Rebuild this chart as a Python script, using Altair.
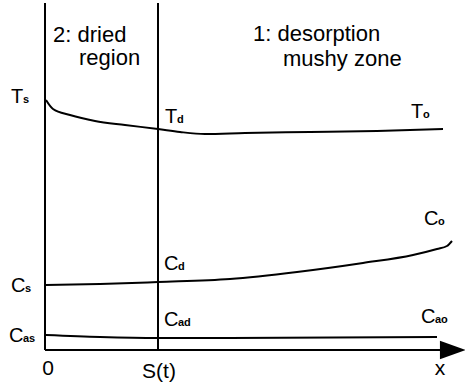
import altair as alt
import pandas as pd

# Curves (x measured from the left axis, y from the bottom axis)
t_x = [1, 8, 25, 50, 80, 113, 135, 160, 200, 265, 332, 398]
t_y = [250, 241, 235, 229, 225, 221, 218, 216, 217, 218, 219, 221]
c_x = [1, 55, 113, 185, 252, 318, 368, 392, 402, 407]
c_y = [65, 66, 68, 71, 78, 87, 95, 101, 104, 109]
ca_x = [1, 55, 113, 185, 392]
ca_y = [15, 13, 12, 12, 13]

s_pos = 113      # front position S(t)
top = 347        # top of vertical lines
x_end = 402      # end of x axis line
arrow_x = 408

# Region labels
reg_text = ["2: dried", "region", "1: desorption", "mushy zone"]
reg_x = [8, 34, 208, 238]
reg_y = [308, 285, 309, 284]

# Symbol labels: main letter + subscript
sym_main = ["T", "T", "T", "C", "C", "C", "C", "C", "C"]
sym_sub = ["s", "d", "o", "o", "d", "s", "as", "ad", "ao"]
sym_x = [-34, 120, 366, 379, 119, -34, -36, 119, 376]
sub_x = [-22, 132, 378, 393, 133, -20, -22, 133, 390]
sym_y = [247, 227, 232, 125, 80, 58, 8, 24, 27]

# Axis labels
ax_text = ["0", "S(t)", "x"]
ax_x = [3, 114, 395]
ax_y = [-25, -28, -25]

FONT = "Liberation Sans"
xs = alt.Scale(domain=[-45, 420], range=[0, 465])
ys = alt.Scale(domain=[-35, 350], range=[385, 0])
X = lambda f="x": alt.X(f"{f}:Q", scale=xs, axis=None)
Y = lambda f="y": alt.Y(f"{f}:Q", scale=ys, axis=None)

curves = pd.DataFrame(
    [{"x": a, "y": b, "k": "T", "o": i} for i, (a, b) in enumerate(zip(t_x, t_y))]
    + [{"x": a, "y": b, "k": "C", "o": i} for i, (a, b) in enumerate(zip(c_x, c_y))]
    + [{"x": a, "y": b, "k": "Ca", "o": i} for i, (a, b) in enumerate(zip(ca_x, ca_y))]
)

lines = alt.Chart(curves).mark_line(color="black", strokeWidth=2, interpolate="monotone").encode(
    x=X(), y=Y(), detail="k:N", order="o:Q"
)

vrules = pd.DataFrame({"x": [0, s_pos], "y": [0, 0], "y2": [top, top]})
vr = alt.Chart(vrules).mark_rule(color="black", strokeWidth=2).encode(
    x=X(), y=Y(), y2="y2:Q"
)
hr = alt.Chart(pd.DataFrame({"x": [0], "x2": [x_end], "y": [0]})).mark_rule(
    color="black", strokeWidth=2
).encode(x=X(), x2="x2:Q", y=Y())
arrow = alt.Chart(pd.DataFrame({"x": [arrow_x], "y": [0]})).mark_point(
    shape="M -1 -0.7 L 1 0 L -1 0.7 Z", filled=True, color="black", opacity=1, size=680
).encode(x=X(), y=Y())

reg = alt.Chart(pd.DataFrame({"x": reg_x, "y": reg_y, "t": reg_text})).mark_text(
    font=FONT, fontSize=22, align="left", baseline="alphabetic", color="black"
).encode(x=X(), y=Y(), text="t:N")

main = alt.Chart(pd.DataFrame({"x": sym_x, "y": sym_y, "t": sym_main})).mark_text(
    font=FONT, fontSize=20, align="left", baseline="alphabetic", color="black"
).encode(x=X(), y=Y(), text="t:N")
sub = alt.Chart(pd.DataFrame({"x": sub_x, "y": sym_y, "t": sym_sub})).mark_text(
    font=FONT, fontSize=11, fontWeight="bold", align="left", baseline="alphabetic", color="black"
).encode(x=X(), y=Y(), text="t:N")

axl = alt.Chart(pd.DataFrame({"x": ax_x, "y": ax_y, "t": ax_text})).mark_text(
    font=FONT, fontSize=21, align="center", baseline="alphabetic", color="black"
).encode(x=X(), y=Y(), text="t:N")

chart = alt.layer(lines, vr, hr, arrow, reg, main, sub, axl).properties(
    width=465, height=385, padding=0, autosize="none"
).configure_view(stroke=None)

chart.save("out.html", embed_options={"renderer": "svg", "actions": False})
